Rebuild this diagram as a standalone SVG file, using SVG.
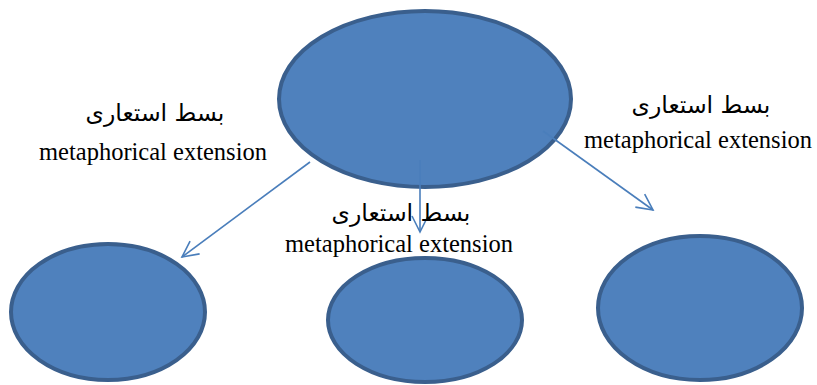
<svg xmlns="http://www.w3.org/2000/svg" width="817" height="385" viewBox="0 0 817 385">
<defs>
<style>
.node{fill:#4F81BD;stroke:#3A5F8D;stroke-width:4}
.conn{stroke:#4A7EBB;stroke-width:1.6;fill:none}
.en{font-family:"Liberation Serif","Times New Roman",serif;font-size:24.5px;fill:#000;text-anchor:middle}
.fa{font-family:"DejaVu Sans","Liberation Serif",sans-serif;font-size:23.5px;fill:#000;text-anchor:middle}
</style>
<marker id="arr" viewBox="0 0 20 20" refX="18" refY="10" markerWidth="20" markerHeight="20" markerUnits="userSpaceOnUse" orient="auto">
<path d="M2,2 L18,10 L2,18" fill="none" stroke="#4A7EBB" stroke-width="1.6"/>
</marker>
</defs>
<rect width="817" height="385" fill="#fff"/>
<g id="node-top"><ellipse class="node" cx="425" cy="99" rx="146" ry="88"/></g>
<g id="node-left"><ellipse class="node" cx="108" cy="312" rx="97" ry="68"/></g>
<g id="node-middle"><ellipse class="node" cx="425" cy="320" rx="97" ry="62"/></g>
<g id="node-right"><ellipse class="node" cx="700" cy="308" rx="102" ry="72"/></g>
<g id="connectors">
<line class="conn" x1="310" y1="162" x2="182" y2="257" marker-end="url(#arr)"/>
<line class="conn" x1="420" y1="160" x2="420" y2="232" marker-end="url(#arr)"/>
<line class="conn" x1="543" y1="131" x2="653" y2="210" marker-end="url(#arr)"/>
</g>
<g id="labels">
<text class="fa" x="155" y="121" direction="rtl">بسط استعاری</text>
<text class="en" x="153" y="160">metaphorical extension</text>
<text class="fa" x="401" y="221" direction="rtl">بسط استعاری</text>
<text class="en" x="399" y="252">metaphorical extension</text>
<text class="fa" x="701" y="113" direction="rtl">بسط استعاری</text>
<text class="en" x="698" y="148">metaphorical extension</text>
</g>
</svg>
